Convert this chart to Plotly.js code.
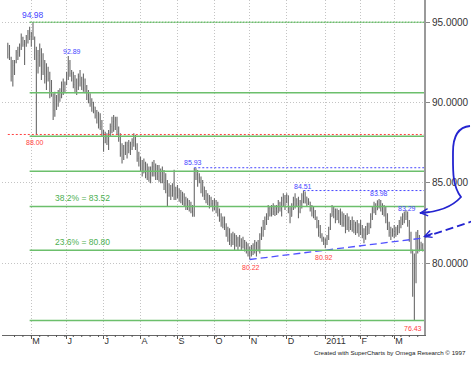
<!DOCTYPE html>
<html><head><meta charset="utf-8">
<script src="https://cdn.plot.ly/plotly-3.0.1.min.js"></script>
<style>html,body{margin:0;padding:0;background:#fff}#chart{width:471px;height:372px}</style>
</head><body><div id="chart"></div>
<script>
// ---------------- DATA ----------------
const START_DATE = '2010-04-13';   // first daily bar; bars are weekdays

const OPEN = [
93.50,93.00,92.75,91.60,92.30,92.50,93.10,93.30,93.55,94.00,93.60,93.70,94.05,94.30,94.10,94.30,94.00,93.20,92.00,92.90,
93.30,91.90,92.50,91.60,91.90,91.50,90.60,90.50,89.50,90.30,89.90,90.50,90.30,91.10,90.80,91.10,91.70,92.40,91.80,91.50,
91.10,90.90,91.20,91.60,91.20,91.40,90.90,91.00,90.40,90.20,89.90,89.60,89.70,89.20,88.90,88.60,88.50,88.10,87.50,87.80,
87.60,88.10,88.50,88.80,88.50,88.90,88.20,87.70,86.80,86.60,87.10,86.90,87.30,87.00,87.40,87.50,87.80,87.20,86.50,86.30,
85.90,85.60,86.20,85.50,85.80,85.30,85.70,86.00,85.60,85.90,85.40,85.80,85.20,85.60,84.80,85.00,84.20,84.60,84.20,84.50,
84.30,84.50,84.20,84.40,83.90,84.10,83.70,83.80,83.50,83.60,83.20,83.00,85.80,85.50,85.30,85.10,84.60,84.75,84.20,84.30,
83.80,84.00,83.70,83.40,83.80,83.30,83.10,82.70,82.50,82.40,82.20,81.80,81.60,81.40,81.30,81.70,81.10,81.50,81.10,81.50,
81.00,81.40,80.90,81.10,80.60,80.70,80.90,81.10,80.80,81.20,81.00,81.70,82.10,82.50,82.70,82.90,83.40,83.10,83.40,83.20,
83.40,83.20,83.70,83.40,83.90,84.10,83.80,84.20,83.40,82.90,83.50,83.90,84.00,83.70,83.20,83.80,84.20,84.00,84.10,83.70,
83.80,83.40,83.10,83.20,82.80,82.30,81.90,81.70,81.50,81.20,81.40,81.60,82.10,82.90,83.20,82.90,82.70,83.10,82.60,83.00,
82.50,82.80,82.10,82.70,82.20,82.40,82.10,82.40,81.90,82.30,81.90,82.20,81.70,81.80,82.10,82.30,82.20,82.90,83.30,83.50,
83.30,83.80,83.60,83.50,83.10,83.30,82.70,82.30,81.90,81.70,82.00,81.80,82.10,82.20,82.50,82.70,82.90,83.00,82.90,82.50,
81.70,80.80,79.00,79.70,81.00,81.20,81.00,81.10
];
const HIGH = [
93.71,93.57,92.84,92.63,92.63,93.26,93.46,93.67,94.29,94.09,93.88,94.19,94.50,94.71,94.40,94.98,94.10,93.46,93.26,93.67,
93.36,93.05,92.63,92.43,92.22,91.91,91.39,90.56,90.66,90.46,90.77,90.87,91.29,91.49,91.29,91.91,92.89,92.63,92.01,91.91,
91.70,91.49,91.80,92.01,91.60,91.80,91.49,91.08,90.77,90.56,90.25,90.04,89.73,89.52,89.42,89.32,88.90,88.28,88.17,88.07,
88.28,88.69,89.11,89.21,89.11,89.11,88.49,88.07,87.45,87.35,87.55,87.55,87.66,87.55,87.76,88.07,87.97,87.45,86.93,86.62,
86.41,86.51,86.31,86.20,86.00,86.00,86.31,86.41,86.20,86.10,86.10,85.89,86.00,85.79,85.58,85.17,84.96,84.86,84.96,85.80,
84.75,84.86,84.65,84.55,84.44,84.34,84.13,84.03,83.92,83.82,83.61,85.93,85.90,85.79,85.58,85.38,85.17,84.75,84.55,84.34,
84.23,84.13,83.92,84.03,83.92,83.82,83.40,83.09,82.89,82.89,82.47,82.26,82.16,81.85,81.95,81.85,81.74,81.64,81.74,81.54,
81.64,81.43,81.33,81.23,81.02,81.12,81.23,81.43,81.33,81.43,81.85,82.26,82.68,82.89,83.09,83.61,83.51,83.61,83.72,83.60,
83.61,83.92,83.82,84.13,84.34,84.23,84.34,84.20,83.51,83.72,84.13,84.34,84.03,84.13,83.92,84.34,84.51,84.45,84.13,84.03,
83.82,83.61,83.51,83.30,82.89,82.68,82.37,81.85,81.64,81.54,81.74,82.26,83.09,83.61,83.51,83.40,83.40,83.30,83.40,83.20,
83.09,82.99,83.09,82.89,82.68,82.89,82.68,82.57,82.68,82.47,82.68,82.37,82.16,82.30,82.50,82.50,83.09,83.51,83.82,83.72,
83.90,83.98,83.92,83.72,83.61,83.51,83.09,82.57,82.26,82.16,82.37,82.26,82.37,82.68,82.89,83.09,83.20,83.29,83.20,82.68,
81.95,80.81,80.60,81.95,82.06,81.74,81.33,81.23
];
const LOW = [
92.73,92.63,91.29,90.98,91.70,92.43,92.63,92.84,93.26,93.46,92.32,93.46,93.67,93.88,93.46,93.88,92.63,88.00,91.80,92.22,
91.39,91.70,91.18,90.77,91.29,90.25,90.35,88.90,89.11,89.52,89.73,90.04,90.25,90.46,90.56,91.08,91.39,91.60,91.29,90.87,
90.56,90.46,90.77,90.98,90.77,90.66,90.56,90.15,89.94,89.73,89.42,89.32,89.00,88.69,88.38,88.28,87.86,86.93,87.45,87.35,
87.03,87.86,88.07,88.17,88.28,87.97,87.55,86.62,86.20,86.41,86.72,86.51,86.83,86.72,87.03,87.24,87.03,86.31,86.00,85.69,
85.38,85.58,85.27,85.17,85.06,84.96,85.38,85.38,85.17,85.17,85.06,84.96,84.96,84.55,84.34,83.51,84.13,83.92,84.13,83.92,
83.92,84.03,83.82,83.72,83.61,83.51,83.30,83.30,83.20,83.09,82.88,82.88,85.17,84.75,84.96,84.34,84.13,83.92,83.72,83.61,
83.40,83.51,83.20,83.30,83.09,82.89,82.57,82.26,82.16,82.06,81.64,81.33,81.12,81.02,81.12,80.81,81.02,80.81,81.02,80.81,
80.91,80.71,80.60,80.40,80.22,80.40,80.50,80.60,80.40,80.71,80.60,81.43,81.64,82.06,82.37,82.68,82.89,82.89,82.99,82.92,
82.99,83.09,83.20,82.89,83.51,83.30,83.72,83.10,82.47,82.89,83.30,83.40,83.51,82.78,83.09,83.40,83.72,83.70,83.51,83.61,
83.20,82.89,82.78,82.68,82.16,81.64,81.54,81.33,81.12,80.92,81.12,81.43,82.06,82.89,82.78,82.47,82.68,82.47,82.37,82.26,
82.26,81.85,82.06,81.95,82.06,81.95,81.85,81.74,81.85,81.64,81.74,81.54,81.23,81.45,81.75,81.80,82.16,82.68,83.09,82.99,
83.30,83.40,83.20,82.99,82.89,82.47,82.06,81.64,81.43,81.64,81.54,81.64,81.74,81.85,82.16,82.37,82.47,82.68,82.26,81.33,
80.60,77.90,76.43,78.74,80.60,80.71,80.81,80.71
];
const CLOSE = [
93.00,92.75,91.60,92.30,92.50,93.10,93.30,93.55,94.00,93.60,93.70,94.05,94.30,94.10,94.30,94.00,93.20,91.20,92.90,93.40,
91.90,92.60,91.60,91.90,91.50,90.60,90.90,89.50,90.30,89.90,90.50,90.30,91.10,90.80,91.10,91.70,92.40,91.80,91.50,91.10,
90.90,91.20,91.60,91.20,91.40,90.90,91.00,90.40,90.20,89.90,89.60,89.70,89.20,88.90,88.60,88.50,88.10,87.30,87.80,87.60,
88.10,88.50,88.80,88.50,88.90,88.20,87.70,86.80,86.60,87.10,86.90,87.30,87.00,87.40,87.50,87.80,87.20,86.50,86.30,85.90,
85.60,86.20,85.50,85.80,85.30,85.70,86.00,85.60,85.90,85.40,85.80,85.20,85.60,84.80,85.00,84.20,84.60,84.20,84.50,84.30,
84.50,84.20,84.40,83.90,84.10,83.70,83.80,83.50,83.60,83.20,83.00,85.80,85.50,85.30,85.10,84.60,84.80,84.20,84.30,83.80,
84.00,83.70,83.40,83.80,83.30,83.10,82.70,82.50,82.40,82.20,81.80,81.60,81.40,81.30,81.70,81.10,81.50,81.00,81.60,81.00,
81.40,80.90,81.10,80.60,80.70,80.90,81.10,80.80,81.20,81.00,81.70,82.10,82.50,82.70,82.90,83.40,83.10,83.40,83.20,83.40,
83.20,83.70,83.40,83.90,84.10,83.60,84.20,83.40,82.80,83.50,83.90,84.00,83.70,83.20,83.80,84.20,84.00,84.30,83.70,83.80,
83.40,83.10,83.20,82.80,82.30,81.90,81.70,81.50,81.20,81.40,81.60,82.10,82.90,83.20,82.90,82.70,83.10,82.60,83.00,82.50,
82.80,82.10,82.70,82.20,82.40,82.10,82.40,81.90,82.30,81.90,82.20,81.70,81.80,82.10,82.30,82.00,82.90,83.30,83.50,83.30,
83.80,83.60,83.50,83.10,83.30,82.70,82.30,81.90,81.70,82.00,81.80,82.10,82.20,82.50,82.70,82.90,83.00,82.90,82.50,81.70,
80.90,79.00,79.70,81.00,81.20,81.00,81.10,80.90
];

const MONTH_LABELS = ['M','J','J','A','S','O','N','D','2011','F','M'];
const Y_TICKS = [80, 85, 90, 95];

// Fibonacci retracement levels (94.98 high -> 76.43 low)
const FIB_LEVELS = [94.98, 90.60, 87.89, 85.71, 83.52, 80.80, 76.43];
const FIB_START = '2010-04-30';
const FIB_LABELS = ['', '', '', '', '38.2% = 83.52', '23.6% = 80.80', ''];

// marked highs / lows
const PEAK_VALUES = [94.98, 92.89, 85.93, 84.51, 83.98, 83.29];
const TROUGH_VALUES = [88.00, 80.22, 80.92, 76.43];

// horizontal reference lines
const RED_LEVEL = 88.00;
const BLUE_LEVELS = [85.93, 84.51];
const BLUE_LEVEL_START = ['2010-09-15', '2010-12-15'];

// support trend line
const TREND_DATES = ['2010-11-01', '2011-03-24'];
const TREND_VALUES = [80.22, 81.55];

// ---------------- BUILD ----------------
function tradingDays(start, n) {
  const out = []; const d = new Date(start + 'T00:00:00Z');
  while (out.length < n) {
    const wd = d.getUTCDay();
    if (wd !== 0 && wd !== 6) out.push(d.toISOString().slice(0, 10));
    d.setUTCDate(d.getUTCDate() + 1);
  }
  return out;
}
const DATES = tradingDays(START_DATE, HIGH.length);
const MONTH_TICKS = [];
const WEEK_TICKS = [];
DATES.forEach((d, i) => {
  if (i > 0 && d.slice(0, 7) !== DATES[i - 1].slice(0, 7)) MONTH_TICKS.push(d);
  if (new Date(d + 'T00:00:00Z').getUTCDay() === 1) WEEK_TICKS.push(d);
});

const FONT = 'Liberation Sans, Arial, sans-serif';
const GREEN = '#6cbf6c';
const BLUE = '#2424d0';
const LBLUE = '#4646ff';
const RED = '#ff4040';
const X_RANGE = [-3.45, 247.74];
const Y_RANGE = [75.52, 96.37];
const PLOT = {l: 2, t: 0, w: 422, h: 335};
const px = x => (x - PLOT.l) / PLOT.w;
const py = y => (PLOT.t + PLOT.h - y) / PLOT.h;

const traces = [
  {
    type: 'ohlc', x: DATES, open: OPEN, high: HIGH, low: LOW, close: CLOSE,
    increasing: {line: {color: '#6a6a6a', width: 1.1}},
    decreasing: {line: {color: '#6a6a6a', width: 1.1}},
    tickwidth: 0.35, hoverinfo: 'skip', showlegend: false
  },
  {
    type: 'scatter', mode: 'lines', x: TREND_DATES, y: TREND_VALUES,
    line: {color: '#5050ff', width: 1.3, dash: '7px,4px'}, hoverinfo: 'skip', showlegend: false
  }
];

const shapes = [];
FIB_LEVELS.forEach((v, i) => {
  shapes.push({type: 'line', xref: 'x', yref: 'y', x0: FIB_START, x1: X_RANGE[1], y0: v, y1: v,
    line: {color: GREEN, width: 1.5, dash: i === 0 ? '2px,1px' : 'solid'}, layer: 'above'});
});
shapes.push({type: 'line', xref: 'x', yref: 'y', x0: DATES[0], x1: X_RANGE[1], y0: RED_LEVEL, y1: RED_LEVEL,
  line: {color: RED, width: 1, dash: '2px,2px'}, layer: 'above'});
BLUE_LEVELS.forEach((v, i) => {
  shapes.push({type: 'line', xref: 'x', yref: 'y', x0: BLUE_LEVEL_START[i], x1: X_RANGE[1], y0: v, y1: v,
    line: {color: LBLUE, width: 1, dash: '2px,2px'}, layer: 'above'});
});
// weekly minor ticks under the x axis
WEEK_TICKS.forEach(d => {
  shapes.push({type: 'line', xref: 'x', yref: 'paper', ysizemode: 'pixel', yanchor: 0,
    x0: d, x1: d, y0: 0, y1: -2, line: {color: '#555', width: 1}});
});
// hand-drawn arrows outside the plot
shapes.push({type: 'path', xref: 'paper', yref: 'paper', line: {color: BLUE, width: 1.8},
  path: `M ${px(470)},${py(126)} C ${px(459)},${py(127)} ${px(453)},${py(136)} ${px(453)},${py(152)} ` +
        `C ${px(453)},${py(170)} ${px(452)},${py(185)} ${px(461)},${py(197)} ` +
        `C ${px(452)},${py(207)} ${px(440)},${py(212)} ${px(420)},${py(213)}`});
shapes.push({type: 'line', xref: 'paper', yref: 'paper', x0: px(476), y0: py(220), x1: px(425), y1: py(237),
  line: {color: BLUE, width: 1.8, dash: '8px,4px'}});

const annotations = [];
const peakStyle = [
  {size: 8.5, xs: 0, ys: 0}, {size: 7, xs: 4, ys: -1}, {size: 7, xs: -1, ys: 0},
  {size: 7, xs: 0, ys: -1}, {size: 7, xs: 0, ys: 0}, {size: 7, xs: 1, ys: -4}
];
PEAK_VALUES.forEach((v, i) => {
  const k = HIGH.indexOf(v);
  annotations.push({x: DATES[k], y: v, xref: 'x', yref: 'y', text: v.toFixed(2), showarrow: false,
    xanchor: 'center', yanchor: 'bottom', xshift: peakStyle[i].xs, yshift: peakStyle[i].ys,
    font: {family: FONT, size: peakStyle[i].size, color: LBLUE}});
});
const troughStyle = [{xs: -1, ys: -3}, {xs: 1, ys: -3}, {xs: -1, ys: -4}, {xs: -1, ys: -3}];
TROUGH_VALUES.forEach((v, i) => {
  const k = LOW.indexOf(v);
  annotations.push({x: DATES[k], y: v, xref: 'x', yref: 'y', text: v.toFixed(2), showarrow: false,
    xanchor: 'center', yanchor: 'top', xshift: troughStyle[i].xs, yshift: troughStyle[i].ys,
    font: {family: FONT, size: 7, color: RED}});
});
FIB_LEVELS.forEach((v, i) => {
  if (!FIB_LABELS[i]) return;
  annotations.push({x: FIB_START, y: v, xref: 'x', yref: 'y', text: FIB_LABELS[i], showarrow: false,
    xanchor: 'left', yanchor: 'bottom', xshift: 23, yshift: 1,
    font: {family: FONT, size: 8.5, color: '#4caf50'}});
});
// arrow heads
annotations.push({xref: 'paper', yref: 'paper', x: px(419), y: py(213), ax: 12, ay: -1, text: '',
  showarrow: true, arrowhead: 5, arrowsize: 0.9, arrowwidth: 1.6, arrowcolor: BLUE});
annotations.push({xref: 'paper', yref: 'paper', x: px(423), y: py(237), ax: 11, ay: -4, text: '',
  showarrow: true, arrowhead: 5, arrowsize: 0.9, arrowwidth: 1.6, arrowcolor: BLUE});
annotations.push({xref: 'paper', yref: 'paper', x: px(312), y: py(352), xanchor: 'left', yanchor: 'middle',
  text: 'Created with SuperCharts by Omega Research © 1997', showarrow: false,
  font: {family: FONT, size: 6.2, color: '#222'}});

const layout = {
  width: 471, height: 372,
  margin: {l: PLOT.l, r: 471 - PLOT.l - PLOT.w, t: PLOT.t, b: 372 - PLOT.t - PLOT.h, pad: 0},
  paper_bgcolor: '#fff', plot_bgcolor: '#fff',
  showlegend: false,
  font: {family: FONT, size: 9, color: '#333'},
  xaxis: {
    type: 'category', range: X_RANGE, rangeslider: {visible: false},
    tickmode: 'array', tickvals: MONTH_TICKS, ticktext: MONTH_LABELS,
    ticks: 'outside', ticklen: 3, tickcolor: '#555', tickwidth: 1,
    showline: true, linecolor: '#666', linewidth: 1,
    showgrid: true, gridcolor: '#c4c4c4', griddash: '1px,2px', gridwidth: 1,
    tickfont: {family: FONT, size: 9, color: '#333'}, ticklabelstandoff: -3,
    ticklabelposition: 'outside right', zeroline: false, fixedrange: true
  },
  yaxis: {
    side: 'right', range: Y_RANGE, tickmode: 'array', tickvals: Y_TICKS, tickformat: '.4f',
    ticks: 'outside', ticklen: 4, tickcolor: '#888',
    showline: true, linecolor: '#9a9a9a', linewidth: 2,
    showgrid: true, gridcolor: '#c4c4c4', griddash: '1px,2px', gridwidth: 1,
    tickfont: {family: FONT, size: 10, color: '#333'}, zeroline: false, fixedrange: true
  },
  shapes: shapes,
  annotations: annotations
};

Plotly.newPlot('chart', traces, layout, {staticPlot: true, displayModeBar: false});
</script>
</body></html>
